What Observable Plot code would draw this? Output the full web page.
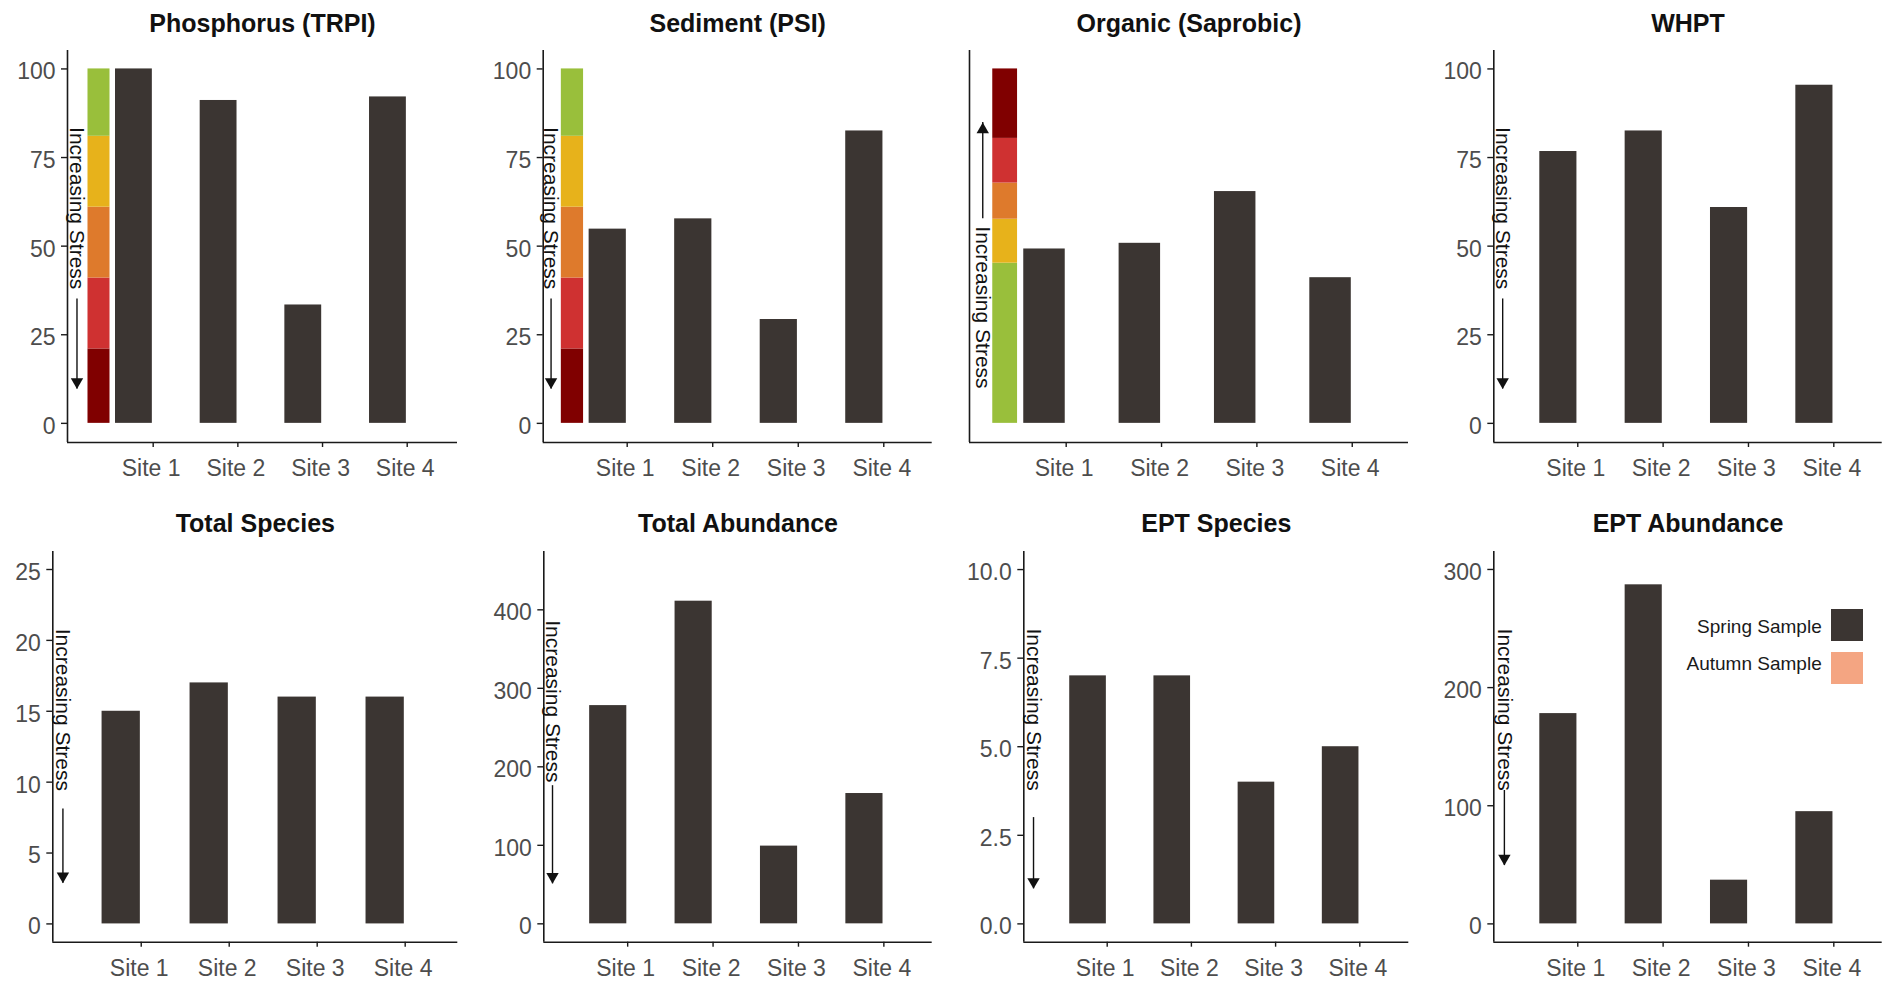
<!DOCTYPE html>
<html><head><meta charset="utf-8">
<script src="https://cdn.jsdelivr.net/npm/d3@7"></script>
<script src="https://cdn.jsdelivr.net/npm/@observablehq/plot@0.6"></script>
<style>
html,body{margin:0;padding:0;background:#fff;}
#root{position:relative;width:1892px;height:982px;overflow:hidden;font-family:"Liberation Sans",Arial,sans-serif;}
#root svg{position:absolute;}
.leg{position:absolute;font-size:19px;color:#1a1a1a;white-space:nowrap;}
.sw{position:absolute;}
</style></head><body><div id="root"></div>
<script>
// ---------- data ----------
const sites = ["Site 1", "Site 2", "Site 3", "Site 4"];
const phosphorus     = [100, 91.1, 33.4, 92.1];
const sediment       = [54.8, 57.7, 29.3, 82.5];
const organic        = [49.2, 50.8, 65.4, 41.1];
const whpt           = [76.7, 82.5, 60.9, 95.4];
const totalSpecies   = [15, 17, 16, 16];
const totalAbundance = [278, 411, 99, 166];
const eptSpecies     = [7, 7, 4, 5];
const eptAbundance   = [178, 287, 37, 95];

const ticks100 = [0, 25, 50, 75, 100];
const ticksSpecies = [0, 5, 10, 15, 20, 25];
const ticksAbund = [0, 100, 200, 300, 400];
const ticksEpt = [0, 2.5, 5, 7.5, 10];
const ticksEptAbund = [0, 100, 200, 300];

const bandBreaks = [0, 21, 41, 61, 81, 100];
const bandColors = ["#800000", "#cf3131", "#de7a2c", "#e7b21b", "#99bf3b"];
const organicBreaks = [0, 45.2, 57.6, 67.8, 80.4, 100];
const organicColors = ["#99bf3b", "#e7b21b", "#de7a2c", "#cf3131", "#800000"];

const legendLabels = ["Spring Sample", "Autumn Sample"];
const legendColors = ["#3b3532", "#f4a582"];
const noteText = "Increasing Stress";

// ---------- layout ----------
const barFill = "#3b3532";
const axisColor = "#1a1a1a";
const tickText = "#4d4d4d";

const panels = [
  {title: "Phosphorus (TRPI)", values: phosphorus, cell: [0, 0], frame: [67, 457, 50, 442], xd: [-0.012, 4.594], yd: [-5.4, 105.2], yt: ticks100,
   bands: [bandBreaks, bandColors], note: {x: 0.1, ty: 60.7, a: 35.1, b: 9.7}},
  {title: "Sediment (PSI)", values: sediment, cell: [473, 0], frame: [542.7, 931.7, 50, 442], xd: [0.018, 4.566], yd: [-5.4, 105.2], yt: ticks100,
   bands: [bandBreaks, bandColors], note: {x: 0.11, ty: 60.7, a: 35.1, b: 9.7}},
  {title: "Organic (Saprobic)", values: organic, cell: [946, 0], frame: [969, 1408, 50, 442], xd: [-0.014, 4.59], yd: [-5.4, 105.2], yt: null,
   bands: [organicBreaks, organicColors], note: {x: 0.125, ty: 32.7, a: 57.7, b: 84.9}},
  {title: "WHPT", values: whpt, cell: [1419, 0], frame: [1493.3, 1881.7, 50, 442], xd: [0.016, 4.567], yd: [-5.4, 105.2], yt: ticks100,
   bands: null, note: {x: 0.12, ty: 60.7, a: 35.1, b: 9.7}},
  {title: "Total Species", values: totalSpecies, cell: [0, 491], frame: [52.3, 457.3, 551, 941.7], xd: [-0.005, 4.598], yd: [-1.29, 26.27], yt: ticksSpecies,
   bands: null, note: {x: 0.11, ty: 15.1, a: 8.1, b: 2.87}},
  {title: "Total Abundance", values: totalAbundance, cell: [473, 491], frame: [543.3, 931.7, 551, 941.7], xd: [0.018, 4.566], yd: [-23.4, 474.3], yt: ticksAbund,
   bands: null, note: {x: 0.12, ty: 283.4, a: 176, b: 51}},
  {title: "EPT Species", values: eptSpecies, cell: [946, 491], frame: [1023.3, 1408.3, 551, 941.7], xd: [0.0095, 4.582], yd: [-0.517, 10.51], yt: ticksEpt, fmt: d3.format(".1f"),
   bands: null, note: {x: 0.125, ty: 6.05, a: 3.0, b: 0.99}},
  {title: "EPT Abundance", values: eptAbundance, cell: [1419, 491], frame: [1493.3, 1881.7, 551, 941.7], xd: [0.016, 4.567], yd: [-15.5, 315.2], yt: ticksEptAbund,
   bands: null, note: {x: 0.14, ty: 181.3, a: 112.9, b: 49.4}, legend: true}
];

const root = document.getElementById("root");
const CW = 473, CH = 491;

for (const p of panels) {
  const [cx, cy] = p.cell;
  const [fl, fr, ft, fb] = p.frame;
  const data = sites.map((s, i) => ({site: s, idx: i + 1, value: p.values[i]}));
  const marks = [];
  if (p.bands) {
    const [br, cols] = p.bands;
    const rows = cols.map((c, i) => ({lo: br[i], hi: br[i + 1], c}));
    marks.push(Plot.rect(rows, {x1: 0.23, x2: 0.49, y1: "lo", y2: "hi", fill: "c"}));
  }
  marks.push(Plot.rect(data, {x1: d => d.idx - 0.445, x2: d => d.idx - 0.01, y1: 0, y2: "value", fill: barFill}));
  // axis lines
  marks.push(Plot.ruleY([p.yd[0]], {stroke: axisColor, strokeWidth: 1.6}));
  marks.push(Plot.ruleX([p.xd[0]], {stroke: axisColor, strokeWidth: 1.6}));
  // x ticks and labels
  marks.push(Plot.axisX([1, 2, 3, 4], {tickSize: 5, stroke: axisColor, strokeWidth: 1.4, fill: "none", label: null}));
  marks.push(Plot.axisX([1, 2, 3, 4], {tickFormat: d => sites[d - 1], tickSize: 0, tickPadding: 17, dx: -2, fontSize: 23, stroke: "none", fill: tickText, label: null}));
  if (p.yt) {
    marks.push(Plot.axisY(p.yt, {tickSize: 6, stroke: axisColor, strokeWidth: 1.4, fill: "none", label: null}));
    marks.push(Plot.axisY(p.yt, {tickFormat: p.fmt || (d => String(d)), tickSize: 0, tickPadding: 12, dy: 3, fontSize: 23, stroke: "none", fill: tickText, label: null}));
  }
  // annotation: Increasing Stress
  const n = p.note;
  marks.push(Plot.text([n], {x: "x", y: "ty", text: () => noteText, rotate: 90, fontSize: 21, fill: "#111"}));
  marks.push(Plot.ruleX([n], {x: "x", y1: "a", y2: "b", stroke: "#111", strokeWidth: 1.4}));
  const up = n.b > n.a;
  marks.push(Plot.dot([n], {x: "x", y: "b", symbol: "triangle", r: 4.6, fill: "#111", stroke: "none", rotate: up ? 0 : 180, dy: up ? 7.1 : -7.1}));
  // title
  marks.push(Plot.text([p.title], {frameAnchor: "top", dy: (cy === 0 ? 23 : 523.5) - ft, text: d => d, fontSize: 25, fontWeight: "bold", fill: "#111", lineAnchor: "middle"}));

  const svg = Plot.plot({
    width: CW, height: CH,
    marginLeft: fl - cx, marginRight: cx + CW - fr,
    marginTop: ft - cy, marginBottom: cy + CH - fb,
    x: {type: "linear", domain: p.xd, axis: null, label: null},
    y: {type: "linear", domain: p.yd, axis: null, label: null},
    color: {type: "identity"},
    style: {fontFamily: "'Liberation Sans', Arial, sans-serif", fontSize: "23px", background: "transparent", overflow: "visible"},
    marks
  });
  svg.style.left = cx + "px";
  svg.style.top = cy + "px";
  root.appendChild(svg);

  if (p.legend) {
    const rows = [[627.3, 609.3], [664, 652.3]];
    legendLabels.forEach((lab, i) => {
      const t = document.createElement("div");
      t.className = "leg";
      t.textContent = lab;
      t.style.right = (1892 - 1821.7) + "px";
      t.style.top = (rows[i][0] - 11) + "px";
      t.style.lineHeight = "22px";
      root.appendChild(t);
      const s = document.createElement("div");
      s.className = "sw";
      s.style.left = "1831px";
      s.style.top = rows[i][1] + "px";
      s.style.width = "32px";
      s.style.height = "32px";
      s.style.background = legendColors[i];
      root.appendChild(s);
    });
  }
}
</script>
</body></html>
